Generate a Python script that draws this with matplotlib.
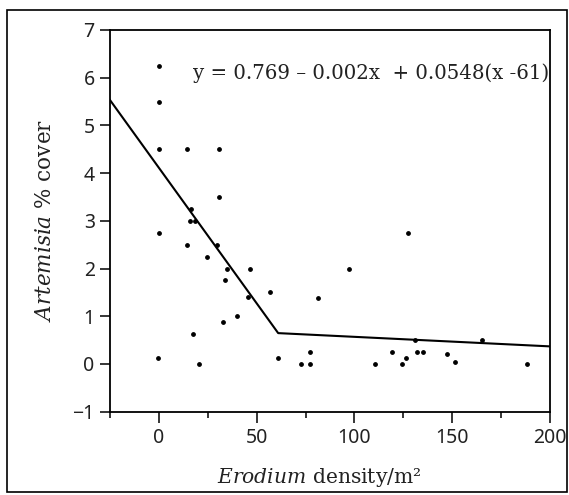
import numpy as np
import matplotlib
matplotlib.use("Agg")
import matplotlib.pyplot as plt
from matplotlib.ticker import MultipleLocator
from matplotlib.patches import Rectangle

# Erodium density (per m2) vs Artemisia % cover
erodium = [0, 0, 0, 14.6, 30.7, 30.7, 16.6, 15.8, 18.3, 0, 14.6, 29.7, 24.8,
           34.6, 46.4, 33.7, 45.6, 39.7, 32.7, 17.6, -0.4, 20.7, 97.3, 56.6,
           81.6, 60.7, 77.5, 72.6, 77.5, 110.4, 119.2, 124.3, 126.4, 131.2,
           132.2, 135.2, 147.4, 151.4, 165.3, 188.2, 127.2]
artemisia = [6.25, 5.5, 4.5, 4.5, 4.5, 3.5, 3.25, 3.0, 3.0, 2.75, 2.5, 2.5, 2.25,
             2.0, 2.0, 1.75, 1.4, 1.0, 0.875, 0.625, 0.125, 0.0, 2.0, 1.5,
             1.375, 0.125, 0.25, 0.0, 0.0, 0.0, 0.25, 0.0, 0.125, 0.5,
             0.25, 0.25, 0.2, 0.05, 0.5, 0.0, 2.75]

# piecewise fit: y = 0.769 - 0.002x + 0.0548(61 - x) for x < 61
intercept = 0.769
slope = -0.002
hinge_slope = 0.0548
knot = 61
fit_x = np.array([-25, knot, 200])
fit_y = intercept + slope * fit_x + hinge_slope * np.clip(knot - fit_x, 0, None)

serif = 'DejaVu Serif'
plt.rcParams['mathtext.fontset'] = 'custom'
plt.rcParams['mathtext.rm'] = serif
plt.rcParams['mathtext.it'] = serif + ':italic'

fig = plt.figure(figsize=(5.69, 4.95), dpi=100)
ax = fig.add_axes([110 / 569, 1 - 411.7 / 495, 440 / 569, 381.7 / 495])

ax.scatter(erodium, artemisia, s=6, c='black', zorder=3)
ax.plot(fit_x, fit_y, color='black', lw=1.5)

ax.set_xlim(-25, 200)
ax.set_ylim(-1, 7)
ax.xaxis.set_minor_locator(MultipleLocator(25))
ax.tick_params(axis='x', which='major', length=8, width=1.1, direction='out')
ax.tick_params(axis='x', which='minor', length=4.5, width=1.1, direction='out')
ax.tick_params(axis='y', which='major', length=7, width=1.1, direction='out')
ax.tick_params(labelsize=14, labelcolor='#222222', pad=4)
ax.set_yticks(range(-1, 8))
ax.set_yticklabels(['\u22121' if v < 0 else str(v) for v in range(-1, 8)],
                   family='Noto Sans')
ax.set_xticks([0, 50, 100, 150, 200])
ax.set_xticklabels(['0', '50', '100', '150', '200'], family='Noto Sans')

for sp in ax.spines.values():
    sp.set_linewidth(1.3)

ax.set_xlabel(r'$\it{Erodium}$ density/m²', family=serif,
              fontsize=14.6, color='#222222', labelpad=13)
ax.xaxis.label.set_x(0.475)
ax.set_ylabel(r'$\it{Artemisia}$ % cover', family=serif,
              fontsize=15.5, color='#222222', labelpad=12)

ax.text(17.5, 6.1, 'y = 0.769 \u2013 0.002x  + 0.0548(x -61)',
        family=serif, fontsize=14.2, color='#222222',
        ha='left', va='center')

# outer frame around the whole figure
fig.patches.append(Rectangle((7 / 569, 3 / 495), 560 / 569, 482 / 495,
                             transform=fig.transFigure, fill=False,
                             edgecolor='black', lw=1.2))

fig.savefig('out.png', dpi=100)
